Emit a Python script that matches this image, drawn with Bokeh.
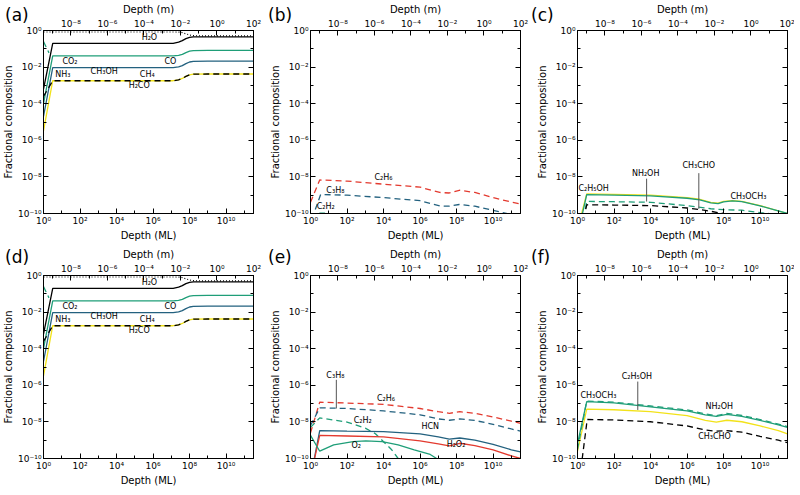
from bokeh.plotting import figure
from bokeh.models import (LogAxis, Range1d, LogScale, FixedTicker,
                          CustomJSTickFormatter, Label, Div)
from bokeh.layouts import gridplot, column
from bokeh.embed import file_html
from bokeh.resources import INLINE

FONT = "DejaVu Sans"

# ---------------- axes ----------------
X_RANGE_ML = [1.0, 3.1623e11]
Y_RANGE = [1e-10, 1.0]
M_PER_ML = 3.1623e-10
X_TICKS = [1, 1e2, 1e4, 1e6, 1e8, 1e10]
X_MINOR = [10, 1e3, 1e5, 1e7, 1e9, 1e11]
M_TICKS = [1e-8, 1e-6, 1e-4, 1e-2, 1, 1e2]
M_MINOR = [1e-9, 1e-7, 1e-5, 1e-3, 1e-1, 10]
Y_TICKS = [1e-10, 1e-8, 1e-6, 1e-4, 1e-2, 1]
Y_MINOR = [1e-9, 1e-7, 1e-5, 1e-3, 1e-1]

# ---------------- panel (a) / (d) ----------------
A_X = [1, 3.2, 1e2, 1e4, 1e6, 1.26e7, 2.5e7, 4e7, 6.3e7, 1e8, 1.6e8, 1e9, 1e10, 3.16e11]
A_TOTAL = [0.83, 0.83, 0.83, 0.83, 0.83, 0.83, 0.82, 0.77, 0.66, 0.57, 0.52, 0.51, 0.51, 0.51]
A_H2O = [6.3e-4, 0.20, 0.20, 0.20, 0.20, 0.20, 0.23, 0.28, 0.36, 0.42, 0.45, 0.45, 0.45, 0.45]
A_GREEN = [1.0e-4, 0.041, 0.041, 0.041, 0.041, 0.041, 0.044, 0.050, 0.062, 0.074, 0.080, 0.081, 0.081, 0.081]
A_BLUE = [2.0e-5, 0.0093, 0.0093, 0.0093, 0.0093, 0.0093, 0.0102, 0.0120, 0.0155, 0.0190, 0.0207, 0.021, 0.021, 0.021]
A_YELLOW = [3.3e-6, 0.0018, 0.0018, 0.0018, 0.0018, 0.0018, 0.0020, 0.0024, 0.0031, 0.0038, 0.0041, 0.0042, 0.0042, 0.0042]
A_BLACKDASH = [2.5e-4, 0.0018, 0.0018, 0.0018, 0.0018, 0.0018, 0.0020, 0.0024, 0.0031, 0.0038, 0.0041, 0.0042, 0.0042, 0.0042]
A_GREENDASH_X = [1, 2]
A_GREENDASH = [0.25, 0.06]
A_LABELS = ["H\u2082O", "CO\u2082", "CO", "NH\u2083", "CH\u2083OH", "CH\u2084", "H\u2082CO"]
A_LABEL_X = [6.3e5, 28, 8.9e6, 11.5, 2.1e3, 4.8e5, 1.74e5]
A_LABEL_Y = [0.40, 0.020, 0.021, 0.0040, 0.0055, 0.0040, 0.0010]

# ---------------- panel (b) ----------------
B_X = [1, 3.2, 1e2, 1e4, 1e6, 1.2e7, 4e7, 1.4e8, 1e9, 1e10, 1e11, 3.16e11]
B_C2H6 = [4.1e-10, 6.8e-9, 5.9e-9, 4.0e-9, 2.75e-9, 1.41e-9, 1.32e-9, 1.86e-9, 1.41e-9, 7.4e-10, 4.2e-10, 3.3e-10]
B_C3H8_X = [1.2, 3.6, 1e2, 1e4, 1e6, 1.2e7, 4e7, 1.4e8, 1e9, 1e10, 1e11, 3.16e11]
B_C3H8 = [5e-11, 1.1e-9, 1.0e-9, 7.4e-10, 5.0e-10, 2.6e-10, 2.5e-10, 3.1e-10, 2.5e-10, 1.48e-10, 8.9e-11, 6.3e-11]
B_C2H2_X = [2.5, 3.2, 6, 8]
B_C2H2 = [5e-11, 1.03e-10, 1.03e-10, 5e-11]
B_LABELS = ["C\u2082H\u2086", "C\u2083H\u2088", "C\u2082H\u2082"]
B_LABEL_X = [1e4, 23, 6.8]
B_LABEL_Y = [9.3e-9, 1.9e-9, 2.3e-10]

# ---------------- panel (c) ----------------
C_X = [1.4, 3.2, 1e2, 1e4, 1e6, 5e6, 2e7, 5e7, 1e8, 3e8, 1e9, 1e10, 3.16e11]
C_YELLOW = [5.0e-11, 1.17e-9, 1.12e-9, 1.0e-9, 7.4e-10, 6.0e-10, 4.1e-10, 3.7e-10, 4.6e-10, 5.1e-10, 4.6e-10, 2.7e-10, 1.0e-10]
C_GREEN_X = [1.6, 3.2, 1e2, 1e4, 1e6, 5e6, 2e7, 5e7, 1e8, 3e8, 1e9, 1e10, 3.16e11]
C_GREEN = [5.0e-11, 1.07e-9, 1.0e-9, 9.1e-10, 6.8e-10, 5.5e-10, 3.8e-10, 3.5e-10, 4.3e-10, 4.9e-10, 4.4e-10, 2.6e-10, 1.0e-10]
C_GREENDASH_X = [2.2, 3.2, 1e2, 1e4, 1e6, 2e7, 1e8, 1e9, 1e10, 3e10, 3.16e11]
C_GREENDASH = [5e-11, 4.6e-10, 4.4e-10, 4.1e-10, 2.7e-10, 1.82e-10, 1.62e-10, 1.51e-10, 1.12e-10, 1.0e-10, 5e-11]
C_BLACKDASH_X = [2.2, 3.2, 1e2, 1e4, 1e6, 1e7, 5e7, 1e8, 3e8]
C_BLACKDASH = [5e-11, 3.0e-10, 2.9e-10, 2.7e-10, 2.0e-10, 1.48e-10, 1.12e-10, 1.0e-10, 6.3e-11]
C_LABELS = ["C\u2082H\u2085OH", "NH\u2082OH", "CH\u2083CHO", "CH\u2083OCH\u2083"]
C_LABEL_X = [7.6, 5.4e3, 4.4e6, 2.3e9]
C_LABEL_Y = [2.4e-9, 1.45e-8, 4.0e-8, 8.3e-10]
C_LEADER_X = [6.1e3, 4.4e6]
C_LEADER_TOP = [8.0e-9, 1.6e-8]
C_LEADER_BOTTOM = [4.5e-10, 1.8e-10]

# ---------------- panel (e) ----------------
E_X = [1, 3.2, 1e2, 1e4, 1e6, 1e7, 4e7, 1.5e8, 1e9, 1e10, 1e11, 3.16e11]
E_C2H6 = [2.5e-9, 1.2e-7, 1.07e-7, 9.1e-8, 5.4e-8, 3.6e-8, 2.95e-8, 3.6e-8, 2.95e-8, 1.86e-8, 1.1e-8, 8.3e-9]
E_C3H8 = [6.3e-9, 5.9e-8, 5.4e-8, 4.0e-8, 2.45e-8, 1.45e-8, 1.23e-8, 1.45e-8, 1.2e-8, 7.4e-9, 4.1e-9, 3.1e-9]
E_C2H2_X = [1, 3.2, 1e2, 1e3, 3.6e3, 1e4, 2.8e4, 6.3e4, 1e5]
E_C2H2 = [5.0e-9, 1.66e-8, 9.8e-9, 4.6e-9, 2.24e-9, 8.3e-10, 3.0e-10, 1.0e-10, 4e-11]
E_S_X = [1.3, 3.2, 1e2, 1e4, 1e6, 1e7, 4e7, 1.5e8, 1e9, 1e10, 1e11, 3.16e11]
E_HCN = [3.2e-11, 3.3e-9, 3.1e-9, 2.95e-9, 2.24e-9, 1.51e-9, 1.15e-9, 1.32e-9, 1.0e-9, 6.0e-10, 3.0e-10, 2.3e-10]
E_H2O2 = [3.2e-11, 1.82e-9, 1.7e-9, 1.51e-9, 9.3e-10, 6.3e-10, 4.9e-10, 6.8e-10, 5.1e-10, 3.0e-10, 1.38e-10, 1.0e-10]
E_O2_X = [1, 3.2, 18.6, 214, 1.07e3, 8.3e3, 6.3e4, 4.8e5, 3.6e6, 8.1e6, 2e7]
E_O2 = [1.86e-9, 2.5e-10, 5.5e-10, 8.3e-10, 9.3e-10, 8.3e-10, 5.5e-10, 3.0e-10, 1.66e-10, 1.0e-10, 5e-11]
E_LABELS = ["C\u2083H\u2088", "C\u2082H\u2086", "C\u2082H\u2082", "HCN", "H\u2082O\u2082", "O\u2082"]
E_LABEL_X = [23, 1.35e4, 7.2e2, 3.6e6, 9.3e7, 316]
E_LABEL_Y = [3.5e-6, 1.95e-7, 1.2e-8, 5.4e-9, 5.5e-10, 4.9e-10]
E_LEADER_X = [26]
E_LEADER_TOP = [2.0e-6]
E_LEADER_BOTTOM = [5.4e-8]

# ---------------- panel (f) ----------------
F_X = [1, 3.2, 1e2, 1e4, 1e6, 1e7, 4e7, 1.5e8, 1e9, 1e10, 1e11, 3.16e11]
F_GREEN = [6.3e-10, 1.29e-7, 1.1e-7, 6.6e-8, 4.0e-8, 2.45e-8, 2.0e-8, 2.6e-8, 2.0e-8, 1.2e-8, 6.8e-9, 5.0e-9]
F_GREENDASH = [3.2e-10, 1.38e-7, 1.2e-7, 7.4e-8, 4.5e-8, 2.75e-8, 2.2e-8, 2.95e-8, 2.24e-8, 1.35e-8, 7.6e-9, 5.6e-9]
F_YELLOW = [2.5e-10, 5.0e-8, 4.6e-8, 3.6e-8, 2.2e-8, 1.2e-8, 9.8e-9, 1.23e-8, 1.02e-8, 6.0e-9, 3.3e-9, 2.24e-9]
F_BLACKDASH_X = [1.8, 3.4, 1e2, 1e4, 1e6, 1e7, 4e7, 1.5e8, 1e9, 1e10, 1e11, 3.16e11]
F_BLACKDASH = [9.3e-11, 1.35e-8, 1.29e-8, 1.02e-8, 6.0e-9, 3.6e-9, 3.1e-9, 3.3e-9, 2.75e-9, 1.62e-9, 1.0e-9, 7.4e-10]
F_LABELS = ["CH\u2083OCH\u2083", "C\u2082H\u2085OH", "NH\u2082OH", "CH\u2083CHO"]
F_LABEL_X = [14, 1.8e3, 5.8e7, 3.2e7]
F_LABEL_Y = [2.9e-7, 2.9e-6, 6.6e-8, 1.5e-9]
F_LEADER_X = [2.0e3]
F_LEADER_TOP = [1.6e-6]
F_LEADER_BOTTOM = [4.5e-8]

PANEL_LETTERS = ["a", "b", "c", "d", "e", "f"]

# ---------------- styles ----------------
BLACK = "#000000"
GREEN = "#1f9e78"
BLUE = "#23617f"
YELLOW = "#f2e21a"
RED = "#e33a2f"
LW = 1.3
DASH = "6 4"

SUP_JS = r"""
const s = {"0":"\u2070","1":"\u00b9","2":"\u00b2","3":"\u00b3","4":"\u2074",
           "5":"\u2075","6":"\u2076","7":"\u2077","8":"\u2078","9":"\u2079","-":"\u207b"};
const e = Math.round(Math.log10(tick));
return "10" + String(e).split("").map(c => s[c]).join("");
"""

FRAME_W = 210
FRAME_H = 183
L, R_AB, R_C = 39, 14, 7
T1, B1, T2, B2 = 27, 27, 32, 26


def style_axis(ax):
    ax.major_tick_in = 5
    ax.major_tick_out = 0
    ax.minor_tick_in = 3
    ax.minor_tick_out = 0
    ax.axis_line_color = "black"
    ax.major_tick_line_color = "black"
    ax.minor_tick_line_color = "black"
    ax.major_label_text_font = FONT
    ax.major_label_text_font_size = "9px"
    ax.major_label_text_color = "black"
    ax.major_label_standoff = 2
    ax.axis_label_text_font = FONT
    ax.axis_label_text_font_size = "10px"
    ax.axis_label_text_font_style = "normal"
    ax.axis_label_text_color = "black"
    ax.axis_label_standoff = 1


def panel(left, right, top, bottom):
    p = figure(frame_width=FRAME_W, frame_height=FRAME_H,
               x_axis_type="log", y_axis_type="log",
               x_range=Range1d(X_RANGE_ML[0], X_RANGE_ML[1]),
               y_range=Range1d(Y_RANGE[0], Y_RANGE[1]),
               output_backend="svg", toolbar_location=None,
               min_border_left=left, min_border_right=right,
               min_border_top=top, min_border_bottom=bottom)
    p.extra_x_ranges = {"m": Range1d(X_RANGE_ML[0] * M_PER_ML, X_RANGE_ML[1] * M_PER_ML)}
    p.extra_x_scales = {"m": LogScale()}
    p.xgrid.visible = False
    p.ygrid.visible = False
    p.outline_line_color = "black"
    p.outline_line_width = 1
    p.outline_line_alpha = 1
    p.border_fill_color = None

    xa = p.xaxis[0]
    xa.ticker = FixedTicker(ticks=X_TICKS, minor_ticks=X_MINOR)
    xa.formatter = CustomJSTickFormatter(code=SUP_JS)
    xa.axis_label = "Depth (ML)"
    style_axis(xa)

    ya = p.yaxis[0]
    ya.ticker = FixedTicker(ticks=Y_TICKS, minor_ticks=Y_MINOR)
    ya.formatter = CustomJSTickFormatter(code=SUP_JS)
    ya.axis_label = "Fractional composition"
    style_axis(ya)

    top_ax = LogAxis(x_range_name="m",
                     ticker=FixedTicker(ticks=M_TICKS, minor_ticks=M_MINOR),
                     formatter=CustomJSTickFormatter(code=SUP_JS),
                     axis_label="Depth (m)")
    style_axis(top_ax)
    p.add_layout(top_ax, "above")

    right_ax = LogAxis(ticker=FixedTicker(ticks=Y_TICKS, minor_ticks=Y_MINOR),
                       formatter=CustomJSTickFormatter(code="return '';"))
    style_axis(right_ax)
    right_ax.major_label_standoff = 0
    right_ax.major_label_text_font_size = "0px"
    p.add_layout(right_ax, "right")
    return p


def add_labels(p, texts, xs, ys):
    for t, x, y in zip(texts, xs, ys):
        p.add_layout(Label(x=x, y=y, text=t, text_font=FONT, text_font_size="8px",
                           text_align="center", text_baseline="middle",
                           text_color="black"))


def add_leaders(p, xs, tops, bottoms):
    p.segment(x0=xs, y0=tops, x1=xs, y1=bottoms, line_color="#555555", line_width=1)


def draw_a(p):
    p.line(A_X, A_TOTAL, line_color=BLACK, line_width=1.2, line_dash="1 2")
    p.line(A_GREENDASH_X, A_GREENDASH, line_color=GREEN, line_width=LW, line_dash=DASH)
    p.line(A_X, A_H2O, line_color=BLACK, line_width=LW)
    p.line(A_X, A_GREEN, line_color=GREEN, line_width=LW)
    p.line(A_X, A_BLUE, line_color=BLUE, line_width=LW)
    p.line(A_X, A_YELLOW, line_color=YELLOW, line_width=LW)
    p.line(A_X, A_BLACKDASH, line_color=BLACK, line_width=LW, line_dash=DASH)
    add_labels(p, A_LABELS, A_LABEL_X, A_LABEL_Y)


pa = panel(L, R_AB, T1, B1)
draw_a(pa)

pb = panel(L, R_AB, T1, B1)
pb.line(B_X, B_C2H6, line_color=RED, line_width=LW, line_dash=DASH)
pb.line(B_C3H8_X, B_C3H8, line_color=BLUE, line_width=LW, line_dash=DASH)
pb.line(B_C2H2_X, B_C2H2, line_color=GREEN, line_width=LW)
add_labels(pb, B_LABELS, B_LABEL_X, B_LABEL_Y)

pc = panel(L, R_C, T1, B1)
pc.line(C_X, C_YELLOW, line_color=YELLOW, line_width=LW)
pc.line(C_GREEN_X, C_GREEN, line_color=GREEN, line_width=LW)
pc.line(C_GREENDASH_X, C_GREENDASH, line_color=GREEN, line_width=LW, line_dash=DASH)
pc.line(C_BLACKDASH_X, C_BLACKDASH, line_color=BLACK, line_width=LW, line_dash=DASH)
add_leaders(pc, C_LEADER_X, C_LEADER_TOP, C_LEADER_BOTTOM)
add_labels(pc, C_LABELS, C_LABEL_X, C_LABEL_Y)

pd = panel(L, R_AB, T2, B2)
draw_a(pd)

pe = panel(L, R_AB, T2, B2)
pe.line(E_X, E_C2H6, line_color=RED, line_width=LW, line_dash=DASH)
pe.line(E_X, E_C3H8, line_color=BLUE, line_width=LW, line_dash=DASH)
pe.line(E_C2H2_X, E_C2H2, line_color=GREEN, line_width=LW, line_dash=DASH)
pe.line(E_S_X, E_HCN, line_color=BLUE, line_width=LW)
pe.line(E_S_X, E_H2O2, line_color=RED, line_width=LW)
pe.line(E_O2_X, E_O2, line_color=GREEN, line_width=LW)
add_leaders(pe, E_LEADER_X, E_LEADER_TOP, E_LEADER_BOTTOM)
add_labels(pe, E_LABELS, E_LABEL_X, E_LABEL_Y)

pf = panel(L, R_C, T2, B2)
pf.line(F_X, F_YELLOW, line_color=YELLOW, line_width=LW)
pf.line(F_BLACKDASH_X, F_BLACKDASH, line_color=BLACK, line_width=LW, line_dash=DASH)
pf.line(F_X, F_GREEN, line_color=GREEN, line_width=LW)
pf.line(F_X, F_GREENDASH, line_color=GREEN, line_width=LW, line_dash=DASH)
add_leaders(pf, F_LEADER_X, F_LEADER_TOP, F_LEADER_BOTTOM)
add_labels(pf, F_LABELS, F_LABEL_X, F_LABEL_Y)

grid = gridplot([[pa, pb, pc], [pd, pe, pf]], toolbar_location=None)

# panel letters, placed in the figure borders (top-left of each panel)
col_w = [L + FRAME_W + R_AB, L + FRAME_W + R_AB, L + FRAME_W + R_C]
row_h = [T1 + FRAME_H + B1, T2 + FRAME_H + B2]
spans = []
for i, letter in enumerate(PANEL_LETTERS):
    r, c = divmod(i, 3)
    left = sum(col_w[:c]) + (L - 39)
    frame_top = sum(row_h[:r]) + (T1 if r == 0 else T2)
    top = frame_top - 27
    spans.append(
        '<span style="position:absolute;left:%dpx;top:%dpx;font-family:\'DejaVu Sans\';'
        'font-size:17px;line-height:20px;color:black;white-space:nowrap;">(%s)</span>'
        % (left, top, letter))
letters = Div(text="".join(spans), width=1, height=1,
              styles={"position": "absolute", "left": "0px", "top": "0px",
                      "z-index": "10", "overflow": "visible"})

layout = column(letters, grid)

with open("out.html", "w", encoding="utf-8") as fh:
    fh.write(file_html(layout, INLINE))
